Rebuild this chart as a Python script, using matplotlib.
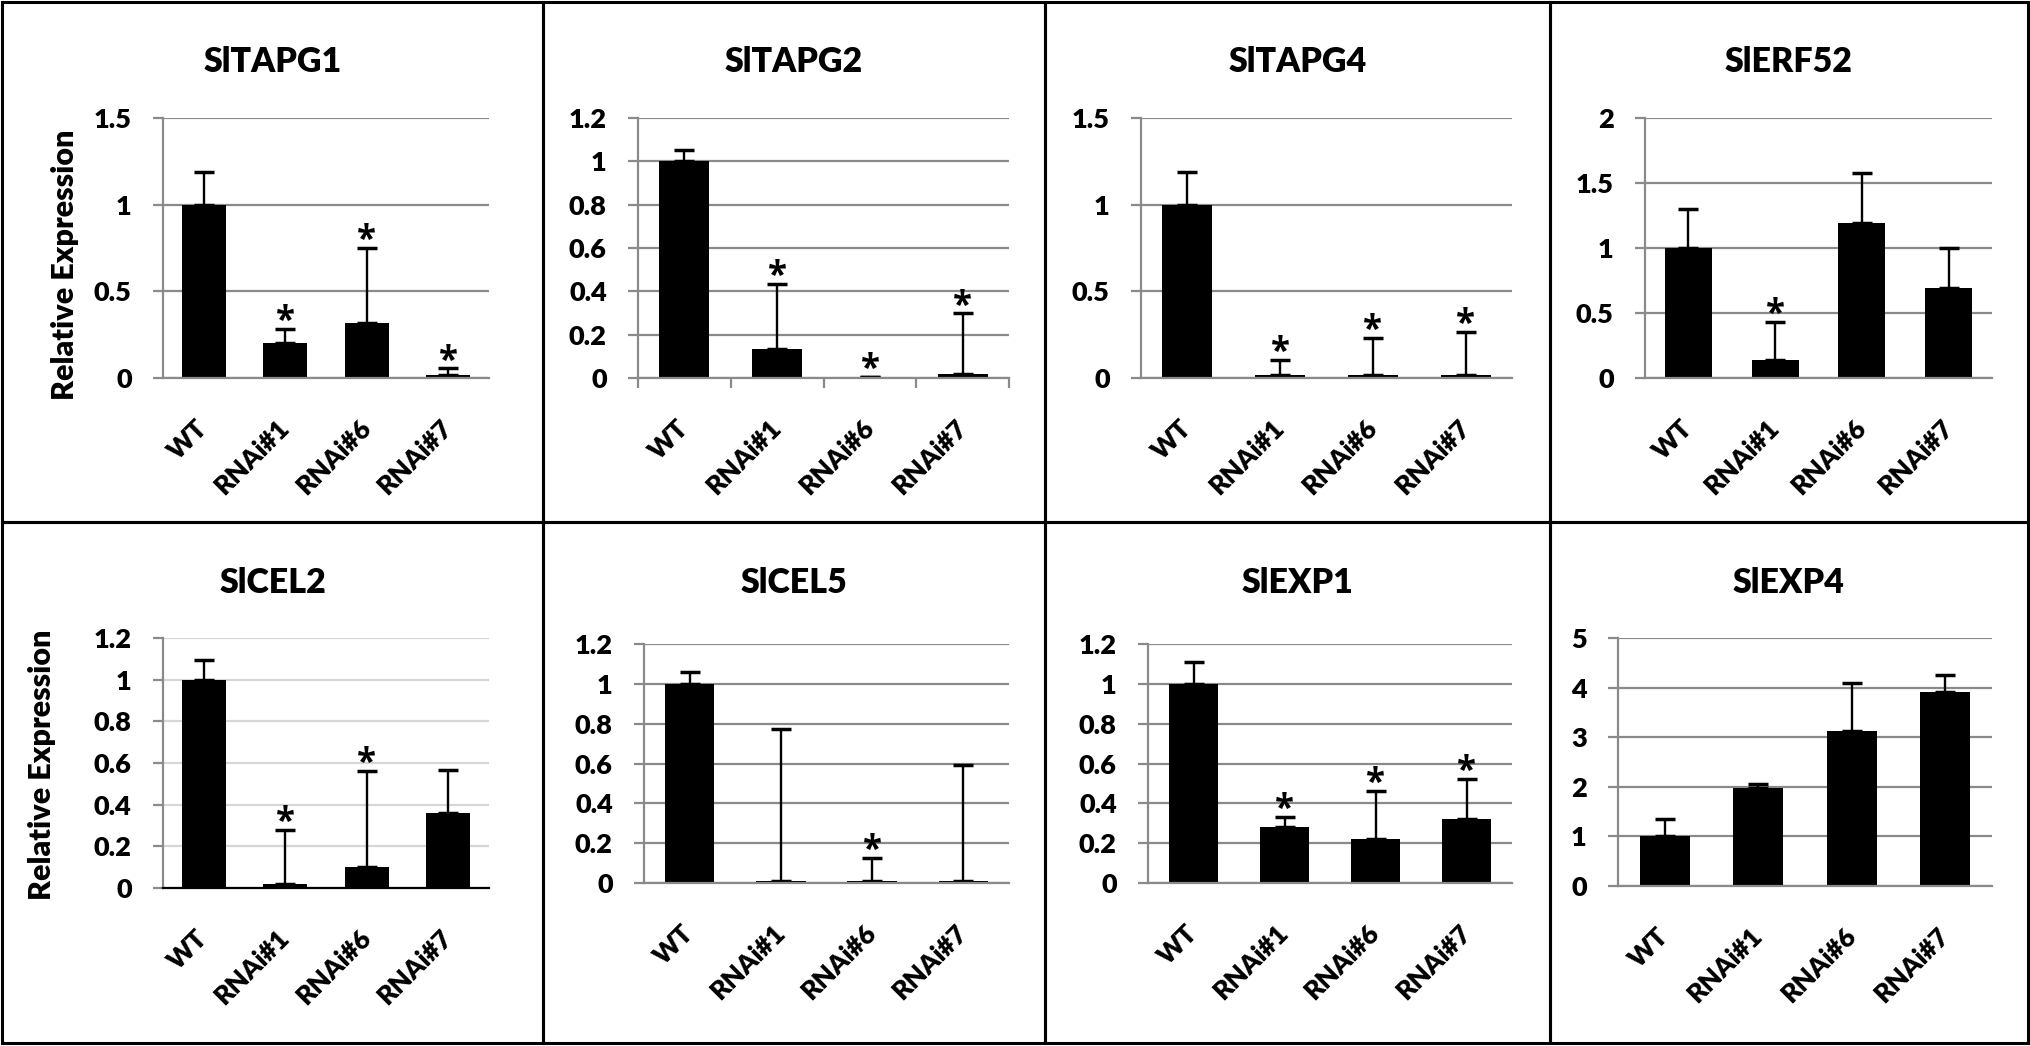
import matplotlib
matplotlib.use('Agg')
import matplotlib.pyplot as plt
from matplotlib.patches import Rectangle
from matplotlib.ticker import FuncFormatter

plt.rcParams['font.family'] = ['Lato', 'DejaVu Sans']
plt.rcParams['font.weight'] = 'heavy'

W, H = 2031, 1046

lines = ['WT', 'RNAi#1', 'RNAi#6', 'RNAi#7']

genes = ['SlTAPG1', 'SlTAPG2', 'SlTAPG4', 'SlERF52',
         'SlCEL2', 'SlCEL5', 'SlEXP1', 'SlEXP4']

tapg1 = [1.0, 0.20, 0.32, 0.02]
tapg1_err = [0.19, 0.085, 0.43, 0.035]
tapg1_sig = [False, True, True, True]

tapg2 = [1.0, 0.135, 0.005, 0.018]
tapg2_err = [0.05, 0.30, 0.0, 0.28]
tapg2_sig = [False, True, True, True]

tapg4 = [1.0, 0.02, 0.02, 0.02]
tapg4_err = [0.19, 0.086, 0.21, 0.245]
tapg4_sig = [False, True, True, True]

erf52 = [1.0, 0.14, 1.19, 0.69]
erf52_err = [0.30, 0.29, 0.39, 0.31]
erf52_sig = [False, True, False, False]

cel2 = [1.0, 0.018, 0.10, 0.358]
cel2_err = [0.095, 0.26, 0.46, 0.21]
cel2_sig = [False, True, True, False]

cel5 = [1.0, 0.012, 0.012, 0.012]
cel5_err = [0.06, 0.76, 0.115, 0.58]
cel5_sig = [False, False, True, False]

exp1 = [1.0, 0.28, 0.222, 0.323]
exp1_err = [0.11, 0.05, 0.24, 0.20]
exp1_sig = [False, True, True, True]

exp4 = [1.0, 1.98, 3.12, 3.91]
exp4_err = [0.36, 0.07, 0.98, 0.35]
exp4_sig = [False, False, False, False]

means = [tapg1, tapg2, tapg4, erf52, cel2, cel5, exp1, exp4]
errs = [tapg1_err, tapg2_err, tapg4_err, erf52_err, cel2_err, cel5_err, exp1_err, exp4_err]
sigs = [tapg1_sig, tapg2_sig, tapg4_sig, erf52_sig, cel2_sig, cel5_sig, exp1_sig, exp4_sig]
yticks = [[0, 0.5, 1, 1.5], [0, 0.2, 0.4, 0.6, 0.8, 1, 1.2], [0, 0.5, 1, 1.5], [0, 0.5, 1, 1.5, 2],
          [0, 0.2, 0.4, 0.6, 0.8, 1, 1.2], [0, 0.2, 0.4, 0.6, 0.8, 1, 1.2],
          [0, 0.2, 0.4, 0.6, 0.8, 1, 1.2], [0, 1, 2, 3, 4, 5]]

# pixel layout: axes (left, right, top, bottom)
axes_px = [(163, 489, 118, 378), (638, 1009, 118, 378), (1141, 1512, 118, 378), (1645, 1992, 118, 378),
           (163, 489, 638, 888), (644, 1009, 644, 883), (1148, 1512, 644, 883), (1618, 1992, 638, 886)]
cols = [2, 543, 1045, 1550, 2028]
rows = [2, 522, 1043]

fig = plt.figure(figsize=(W / 100, H / 100), dpi=100)

grey = '#8a8a8a'
for i in range(8):
    l, r, t, b = axes_px[i]
    ax = fig.add_axes([l / W, 1 - b / H, (r - l) / W, (b - t) / H])
    x = range(4)
    gc = '#d6d6d6' if i == 4 else grey
    ax.set_axisbelow(True)
    ax.yaxis.grid(True, color=gc, lw=1.6)
    ax.bar(x, means[i], width=0.54, color='black', zorder=3)
    ax.errorbar(x, means[i], yerr=[[0] * 4, errs[i]], fmt='none', ecolor='black',
                elinewidth=1.7, capsize=7, capthick=2.5, zorder=4)
    for j in range(4):
        if sigs[i][j]:
            ax.annotate('*', (j, means[i][j] + errs[i][j]), xytext=(0, -1.5),
                        textcoords='offset points', ha='center', va='baseline',
                        fontsize=25, fontweight='bold', family=['Open Sans', 'DejaVu Sans'])
    ax.set_xlim(-0.5, 3.5)
    ax.set_ylim(0, yticks[i][-1])
    ax.set_yticks(yticks[i])
    ax.yaxis.set_major_formatter(FuncFormatter(lambda v, p: '%g' % v))
    ax.tick_params(axis='y', length=7.5, width=1.6, color=grey, pad=15, labelsize=19.5)
    ax.set_xticks(list(x))
    ax.set_xticklabels(lines, rotation=45, ha='right', va='center',
                       rotation_mode='anchor', fontsize=19)
    ax.tick_params(axis='x', length=0, pad=33)
    if i == 1:
        ax.set_xticks([-0.5, 0.5, 1.5, 2.5, 3.5], minor=True)
        ax.tick_params(axis='x', which='minor', length=7.5, width=1.6, color=grey)
    for s in ['top', 'right']:
        ax.spines[s].set_visible(False)
    ax.spines['left'].set_color(grey)
    ax.spines['left'].set_linewidth(1.6)
    ax.spines['bottom'].set_color('black' if i == 4 else grey)
    ax.spines['bottom'].set_linewidth(1.6)
    ax.spines['bottom'].set_zorder(5)

    row, col = divmod(i, 4)
    cx = (cols[col] + cols[col + 1]) / 2
    ty = 72 if row == 0 else 593
    fig.text(cx / W, 1 - ty / H, genes[i], ha='center', va='baseline', fontsize=24.5)

fig.text(65 / W, 1 - 265 / H, 'Relative Expression', rotation=90, ha='center', va='center',
         fontsize=22)
fig.text(42 / W, 1 - 765 / H, 'Relative Expression', rotation=90, ha='center', va='center',
         fontsize=22)

for r in range(2):
    for c in range(4):
        fig.add_artist(Rectangle((cols[c] / W, 1 - rows[r + 1] / H),
                                 (cols[c + 1] - cols[c]) / W, (rows[r + 1] - rows[r]) / H,
                                 transform=fig.transFigure, fill=False, edgecolor='black', lw=2.2))

fig.savefig('out.png', dpi=100)
